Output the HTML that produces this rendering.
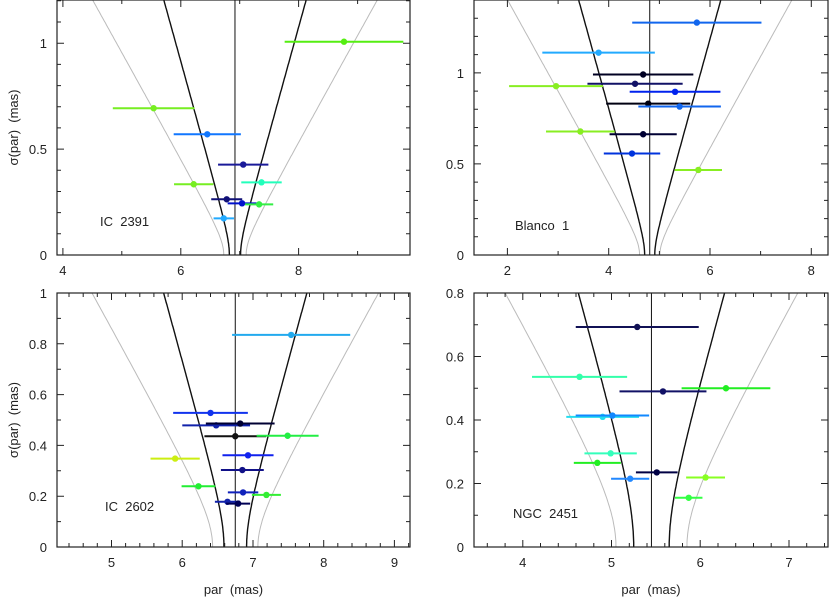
<!DOCTYPE html>
<html><head><meta charset="utf-8"><style>
body{margin:0;background:#fff}
svg{display:block;font-family:"Liberation Sans",sans-serif}
</style></head><body>
<svg id="c" width="830" height="599"></svg>
<script>
const p1Par=[8.77,5.54,6.45,7.06,7.37,6.22,6.78,7.04,7.33,6.73];
const p1Sig=[1.007,0.693,0.570,0.427,0.343,0.334,0.263,0.244,0.239,0.173];
const p1Col=["#55ee11","#77ee22","#1177ff","#1a1a99","#22ffbb","#77ee22","#111177","#0011cc","#33ee44","#22aaff"];
const p2Par=[5.74,3.80,4.68,4.52,5.31,2.96,4.78,5.40,3.44,4.68,4.46,5.77];
const p2Sig=[1.276,1.111,0.991,0.940,0.896,0.927,0.831,0.815,0.678,0.663,0.557,0.467];
const p2Col=["#1166ee","#22aaff","#000022","#111166","#0022ee","#88ee22","#000011","#1166ee","#88ee22","#000033","#0033dd","#88ee22"];
const p3Par=[7.54,6.40,6.48,6.82,6.75,7.49,6.93,5.90,6.85,6.23,6.86,7.19,6.64,6.79];
const p3Sig=[0.835,0.528,0.479,0.486,0.436,0.438,0.361,0.348,0.303,0.239,0.215,0.205,0.178,0.171];
const p3Col=["#22aaee","#1133ee","#1122aa","#000033","#111111","#22ee44","#1122ee","#ccee11","#111188","#22ee33","#1122bb","#33ee33","#1122aa","#000055"];
const p4Par=[5.29,4.64,5.58,6.29,4.90,5.01,4.99,4.84,5.51,5.21,6.06,5.87];
const p4Sig=[0.693,0.536,0.490,0.500,0.410,0.414,0.295,0.265,0.235,0.215,0.219,0.155];
const p4Col=["#111155","#33ffaa","#111166","#22ee22","#22ddee","#1188ff","#33ffbb","#22ee22","#000044","#2288ff","#88ff22","#33ff44"];
const panels=[
 {name:"ic-2391",label:"IC 2391",L:57,R:410,T:0,B:255,x0:3.90,x1:9.89,y0:0,y1:1.204,c:6.92,s:0.095,xMaj:[4,6,8],xMin:1,yMaj:[0,0.5,1],yLab:["0","0.5","1"],par:p1Par,sig:p1Sig,col:p1Col,lx:100,ly:226,yt:true,xt:false},
 {name:"blanco-1",label:"Blanco 1",L:474,R:828,T:0,B:255,x0:1.34,x1:8.33,y0:0,y1:1.40,c:4.81,s:0.1,xMaj:[2,4,6,8],xMin:1,yMaj:[0,0.5,1],yLab:["0","0.5","1"],par:p2Par,sig:p2Sig,col:p2Col,lx:515,ly:230,yt:false,xt:false},
 {name:"ic-2602",label:"IC 2602",L:57,R:410,T:293,B:547,x0:4.23,x1:9.22,y0:0,y1:1,c:6.75,s:0.16,xMaj:[5,6,7,8,9],xMin:0.2,yMaj:[0,0.2,0.4,0.6,0.8,1],yLab:["0","0.2","0.4","0.6","0.8","1"],par:p3Par,sig:p3Sig,col:p3Col,lx:105,ly:511,yt:true,xt:true},
 {name:"ngc-2451",label:"NGC 2451",L:474,R:828,T:293,B:547,x0:3.45,x1:7.44,y0:0,y1:0.8,c:5.45,s:0.2,xMaj:[4,5,6,7],xMin:0.2,yMaj:[0,0.2,0.4,0.6,0.8],yLab:["0","0.2","0.4","0.6","0.8"],par:p4Par,sig:p4Sig,col:p4Col,lx:513,ly:518,yt:false,xt:true}
];
const NS="http://www.w3.org/2000/svg";
const svg=document.getElementById("c");
function mk(t,a,parent){const e=document.createElementNS(NS,t);for(const k in a)e.setAttribute(k,a[k]);(parent||svg).appendChild(e);return e;}
panels.forEach(P=>{
 const g=mk("g",{});
 
 
 const X=v=>P.L+(v-P.x0)/(P.x1-P.x0)*(P.R-P.L);
 const Y=v=>P.B-(v-P.y0)/(P.y1-P.y0)*(P.B-P.T);
 const cp="cp-"+P.name;
 const d=mk("clipPath",{id:cp},g);mk("rect",{x:P.L,y:P.T,width:P.R-P.L,height:P.B-P.T},d);
 const inner=mk("g",{"clip-path":"url(#"+cp+")"},g);
 // curves
 [[2,"#bbbbbb"],[1,"#111"]].forEach(([k,col])=>{
  [-1,1].forEach(sg=>{
   let pts=[];for(let i=0;i<=120;i++){const s=P.y1*1.05*i/120;pts.push(X(P.c+sg*k*Math.sqrt(s*s+P.s*P.s)).toFixed(1)+","+Y(s).toFixed(1));}
   const pl=mk("polyline",{points:pts.join(" "),fill:"none",stroke:col,"stroke-width":k==1?1.4:1},inner);
   
   
  });
 });
 const cl=mk("line",{x1:X(P.c),x2:X(P.c),y1:P.T,y2:P.B,stroke:"#111","stroke-width":1},inner);
 
 
 P.par.forEach((v,i)=>{
  const s=P.sig[i];
  const eb=mk("line",{x1:X(v-s),x2:X(v+s),y1:Y(s),y2:Y(s),stroke:P.col[i],"stroke-width":2},inner);
  
  
  const pt=mk("circle",{cx:X(v),cy:Y(s),r:3.2,fill:P.col[i]},inner);
  
  
 });
 // frame
 const fr=mk("rect",{x:P.L,y:P.T,width:P.R-P.L,height:P.B-P.T,fill:"none",stroke:"#222","stroke-width":1.2},g);
 
 
 // ticks
 let tk="";
 const st=Math.ceil(P.x0/P.xMin-1e-6);
 for(let j=st;j*P.xMin<=P.x1;j++){const v=j*P.xMin;const maj=P.xMaj.some(m=>Math.abs(m-v)<1e-6);const L=maj?7:4;const x=X(v).toFixed(1);tk+=`M${x},${P.B}v${-L}M${x},${P.T}v${L}`;}
 for(let j=0;j*0.1<=P.y1+1e-6;j++){const v=j*0.1;const maj=P.yMaj.some(m=>Math.abs(m-v)<1e-6);const L=maj?7:4;const y=Y(v).toFixed(1);tk+=`M${P.L},${y}h${L}M${P.R},${y}h${-L}`;}
 const tp=mk("path",{d:tk,stroke:"#222","stroke-width":1,fill:"none"},g);
 
 
 P.xMaj.forEach(v=>{const t=mk("text",{x:X(v),y:P.B+20,"text-anchor":"middle","font-size":13,fill:"#222"},g);t.textContent=String(v);
  
  });
 P.yMaj.forEach((v,i)=>{const t=mk("text",{x:P.L-10,y:Y(v)+5,"text-anchor":"end","font-size":13,fill:"#222"},g);t.textContent=P.yLab[i];
  
  });
 const lb=mk("text",{x:P.lx,y:P.ly,"font-size":13,fill:"#222"},g);lb.textContent=P.label.replace(" ","\u00a0\u00a0");
 
 
 if(P.yt){const cy=(P.T+P.B)/2;const t=mk("text",{x:18,y:cy,"text-anchor":"middle","font-size":13,fill:"#222",transform:`rotate(-90 18 ${cy})`},g);t.textContent="σ(par)\u00a0\u00a0(mas)";
  
  }
 if(P.xt){const t=mk("text",{x:(P.L+P.R)/2,y:594,"text-anchor":"middle","font-size":13,fill:"#222"},g);t.textContent="par\u00a0\u00a0(mas)";
  
  }
});
</script>
</body></html>
